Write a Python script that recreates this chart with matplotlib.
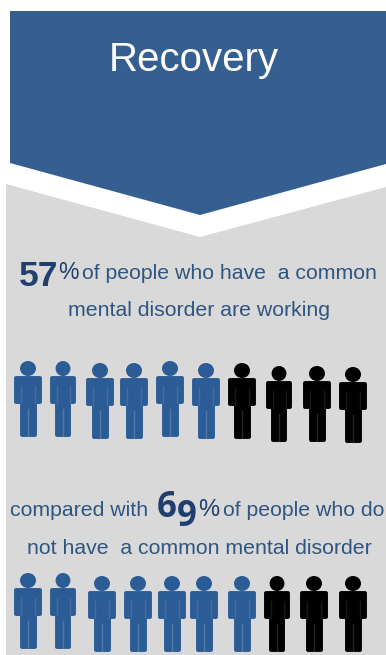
import matplotlib
matplotlib.use('Agg')
import matplotlib.pyplot as plt
from matplotlib.patches import Polygon, Ellipse, PathPatch
from matplotlib.path import Path

title = 'Recovery'
percents = [57, 69]
total_people = 10
# icons filled in blue for each row, the percentage rounded to tens
filled = [round(p / total_people) for p in percents]

# icon layout for each row: centre x, head top, width
row1_x = [28, 63, 100, 134, 170, 206, 242, 279, 317, 353]
row1_top = [361, 361, 363, 363, 361, 363, 363, 366, 366, 367]
row1_w = [28, 26, 28, 28, 28, 28, 28, 26, 28, 28]
row2_x = [28, 63, 102, 138, 172, 204, 242, 277, 314, 353]
row2_top = [573, 573, 576, 576, 576, 576, 576, 576, 576, 576]
row2_w = [28, 26, 28, 28, 28, 28, 28, 26, 28, 28]

BLUE = '#2c5c95'
HEADER = '#365f91'
GREY = '#d9d9d9'
TEXT = '#2f5580'
NAVY = '#1f3f6e'
SANS = 'Liberation Sans'
NARROW = ['Liberation Sans Narrow', 'Liberation Sans']
BODY = 15.3

fig = plt.figure(figsize=(3.86, 6.55), dpi=100)
ax = fig.add_axes([0, 0, 1, 1])
ax.set_xlim(0, 386)
ax.set_ylim(655, 0)
ax.axis('off')


def draw_person(cx, top, w, color, slit):
    u = w / 28
    ax.add_patch(Ellipse((cx, top + 7.5), 16 * u, 15, fc=color, ec='none'))
    # body outline, corners rounded by the stroke
    pad = 2
    hw = w / 2 - pad
    lw = 6.5 * u
    verts = [(cx - hw, top + 17), (cx + hw, top + 17), (cx + hw, top + 41),
             (cx + lw, top + 41), (cx + lw, top + 74), (cx - lw, top + 74),
             (cx - lw, top + 41), (cx - hw, top + 41), (cx - hw, top + 17)]
    codes = [Path.MOVETO] + [Path.LINETO] * 7 + [Path.CLOSEPOLY]
    ax.add_patch(PathPatch(Path(verts, codes), fc=color, ec=color, lw=2.8, joinstyle='round'))
    # faint gaps beside the arms and between the legs
    for sx in [-7 * u, 7 * u]:
        ax.plot([cx + sx, cx + sx], [top + 25, top + 42], color=slit, lw=1, alpha=0.3)
    ax.plot([cx, cx], [top + 48, top + 75], color=slit, lw=1, alpha=0.45)


def draw_row(xs, tops, widths, n_filled):
    for i in range(total_people):
        if i < n_filled:
            draw_person(xs[i], tops[i], widths[i], BLUE, '#7f9dc0')
        else:
            draw_person(xs[i], tops[i], widths[i], 'black', '#555555')


# grey panel, then white header band and blue arrow
ax.add_patch(Polygon([(6, 184), (200, 237), (386, 187), (386, 655), (6, 655)], fc=GREY, ec='none'))
ax.add_patch(Polygon([(10, 11), (386, 11), (386, 164), (200, 215), (10, 163)], fc=HEADER, ec='none'))
ax.text(193.5, 71, title, color='white', family=SANS, fontsize=29, ha='center', va='baseline')

# first statement
ax.text(19, 286, '57', color=NAVY, family=NARROW, fontsize=25.5, ha='left', va='baseline', weight='bold')
ax.text(58.5, 279, '%', color=NAVY, family=NARROW, fontsize=16.5, ha='left', va='baseline')
ax.text(82, 279, 'of people who have  a common', color=TEXT, family=SANS, fontsize=BODY, ha='left', va='baseline')
ax.text(199.5, 316, 'mental disorder are working', color=TEXT, family=SANS, fontsize=BODY, ha='center', va='baseline')

draw_row(row1_x, row1_top, row1_w, filled[0])

# second statement, the two digits sit on different baselines
ax.text(10, 516, 'compared with', color=TEXT, family=SANS, fontsize=BODY, ha='left', va='baseline')
ax.text(157, 517, '6', color=NAVY, family='Open Sans', fontsize=25, ha='left', va='baseline', weight='bold')
ax.text(177, 526, '9', color=NAVY, family='Open Sans', fontsize=25, ha='left', va='baseline', weight='bold')
ax.text(198, 516, '%', color=NAVY, family=NARROW, fontsize=17, ha='left', va='baseline')
ax.text(223, 516, 'of people who do', color=TEXT, family=SANS, fontsize=BODY, ha='left', va='baseline')
ax.text(199, 554, 'not have  a common mental disorder', color=TEXT, family=SANS, fontsize=BODY, ha='center', va='baseline')

draw_row(row2_x, row2_top, row2_w, filled[1])

fig.savefig('out.png', dpi=100, facecolor='white')
